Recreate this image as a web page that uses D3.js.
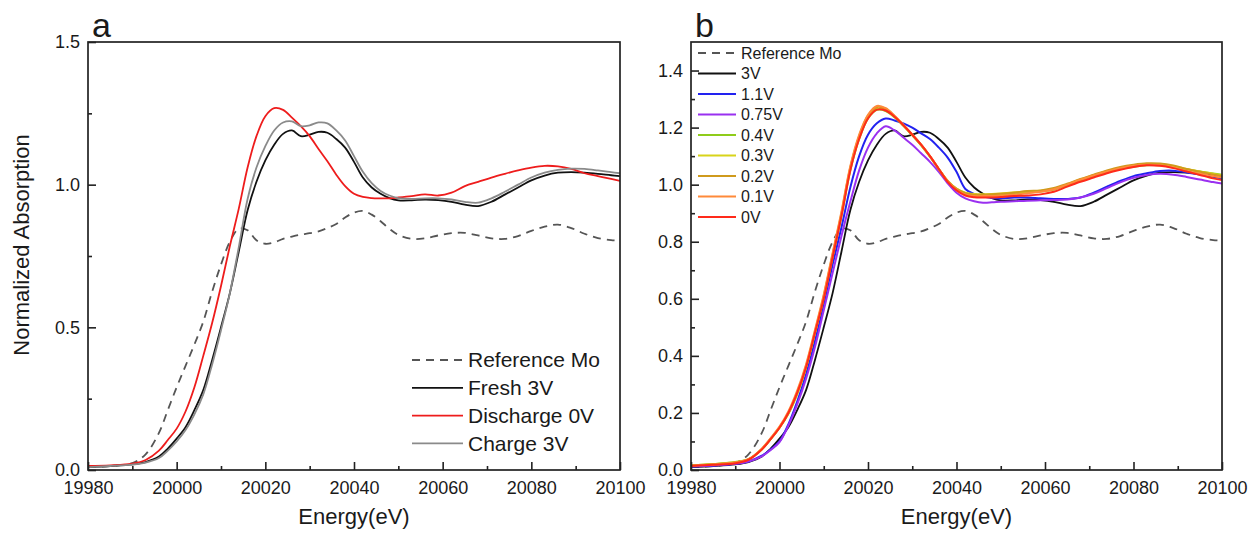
<!DOCTYPE html>
<html>
<head>
<meta charset="utf-8">
<script src="https://cdn.jsdelivr.net/npm/d3@7"></script>
<style>
    body { margin: 0; background: #fff; }
    svg text { font-family: "Liberation Sans", Arial, Helvetica, sans-serif; fill: #1a1a1a; }
</style>
</head>
<body>
<div id="chart"></div>
<script>
// energy grid (eV) shared by every curve
const energy = [19980, 19985, 19990, 19993, 19996, 19998,
    20000, 20002, 20004, 20006, 20008, 20010, 20012, 20014, 20016, 20018,
    20020, 20022, 20024, 20026, 20028, 20030, 20032, 20034, 20036, 20038,
    20040, 20042, 20044, 20046, 20048, 20050,
    20053, 20056, 20059, 20062, 20065, 20068, 20071, 20074, 20077, 20080,
    20083, 20086, 20089, 20092, 20095, 20098, 20100];

const refMo = [0.010, 0.014, 0.024, 0.055, 0.13, 0.21,
    0.29, 0.365, 0.44, 0.52, 0.625, 0.72, 0.80, 0.845, 0.84, 0.805,
    0.793, 0.798, 0.81, 0.818, 0.825, 0.83, 0.836, 0.848, 0.862, 0.885,
    0.902, 0.908, 0.895, 0.872, 0.845, 0.824,
    0.81, 0.812, 0.822, 0.83, 0.831, 0.822, 0.812, 0.81, 0.82, 0.838,
    0.853, 0.86, 0.848, 0.828, 0.813, 0.806, 0.804];

const fresh3V = [0.010, 0.014, 0.020, 0.028, 0.047, 0.075,
    0.11, 0.15, 0.21, 0.28, 0.385, 0.5, 0.62, 0.765, 0.91, 1.01,
    1.085, 1.14, 1.178, 1.19, 1.17, 1.175, 1.185, 1.182, 1.16, 1.13,
    1.08, 1.025, 0.99, 0.968, 0.953, 0.945,
    0.945, 0.948, 0.946, 0.94, 0.93, 0.925, 0.94, 0.965, 0.99, 1.015,
    1.032, 1.042, 1.044, 1.042, 1.038, 1.033, 1.03];

const discharge0V = [0.014, 0.016, 0.022, 0.035, 0.068, 0.105,
    0.145, 0.205, 0.29, 0.40, 0.515, 0.645, 0.785, 0.915, 1.06, 1.17,
    1.24, 1.268, 1.262, 1.235, 1.205, 1.17, 1.125, 1.082, 1.035, 0.995,
    0.968, 0.957, 0.953, 0.952, 0.952, 0.955,
    0.96, 0.966, 0.962, 0.972, 0.995, 1.01, 1.025, 1.038, 1.05, 1.06,
    1.066, 1.064, 1.055, 1.04, 1.03, 1.02, 1.013];

const charge3V = [0.010, 0.014, 0.019, 0.026, 0.042, 0.068,
    0.10, 0.14, 0.195, 0.265, 0.37, 0.49, 0.62, 0.78, 0.95, 1.06,
    1.135, 1.19, 1.218, 1.222, 1.205, 1.208, 1.218, 1.215, 1.19, 1.155,
    1.10, 1.045, 1.005, 0.978, 0.962, 0.953,
    0.95, 0.952, 0.952, 0.948, 0.94, 0.937, 0.952, 0.975, 1.0, 1.025,
    1.042, 1.052, 1.056, 1.055, 1.05, 1.044, 1.04];

// panel b, potential series
const b1_1V = [0.012, 0.016, 0.022, 0.03, 0.05, 0.072,
    0.10, 0.16, 0.24, 0.335, 0.45, 0.58, 0.72, 0.85, 0.99, 1.10,
    1.175, 1.215, 1.232, 1.225, 1.215, 1.2, 1.18, 1.16, 1.13, 1.095,
    1.045, 0.985, 0.968, 0.958, 0.953, 0.952,
    0.955, 0.955, 0.952, 0.95, 0.95, 0.955, 0.972, 0.993, 1.013, 1.03,
    1.04, 1.048, 1.049, 1.043, 1.036, 1.028, 1.022];

const b0_75V = [0.012, 0.016, 0.022, 0.03, 0.048, 0.07,
    0.098, 0.155, 0.23, 0.32, 0.43, 0.56, 0.69, 0.82, 0.94, 1.05,
    1.13, 1.18, 1.205, 1.19, 1.165, 1.14, 1.11, 1.08, 1.045, 1.005,
    0.972, 0.952, 0.942, 0.937, 0.938, 0.94,
    0.942, 0.944, 0.945, 0.946, 0.948, 0.955, 0.968, 0.988, 1.008, 1.024,
    1.034, 1.038, 1.035, 1.027, 1.018, 1.009, 1.004];

const b0_4V = [0.016, 0.021, 0.028, 0.038, 0.073, 0.108,
    0.148, 0.197, 0.266, 0.358, 0.478, 0.602, 0.745, 0.89, 1.05, 1.16,
    1.232, 1.262, 1.258, 1.236, 1.206, 1.173, 1.138, 1.098, 1.054, 1.013,
    0.985, 0.97, 0.965, 0.964, 0.965, 0.966,
    0.97, 0.973, 0.976, 0.983, 0.998, 1.015, 1.03, 1.044, 1.055, 1.063,
    1.068, 1.068, 1.063, 1.054, 1.046, 1.039, 1.035];

const b0_3V = [0.016, 0.02, 0.027, 0.037, 0.072, 0.108,
    0.148, 0.198, 0.268, 0.36, 0.48, 0.605, 0.75, 0.895, 1.055, 1.165,
    1.236, 1.266, 1.262, 1.238, 1.207, 1.174, 1.139, 1.099, 1.055, 1.014,
    0.986, 0.972, 0.967, 0.966, 0.967, 0.969,
    0.973, 0.976, 0.979, 0.986, 1.001, 1.018, 1.033, 1.047, 1.058, 1.066,
    1.071, 1.071, 1.065, 1.055, 1.046, 1.038, 1.033];

const b0_2V = [0.016, 0.02, 0.027, 0.038, 0.074, 0.11,
    0.15, 0.2, 0.272, 0.365, 0.485, 0.61, 0.755, 0.9, 1.06, 1.17,
    1.242, 1.272, 1.266, 1.24, 1.208, 1.175, 1.14, 1.1, 1.055, 1.013,
    0.985, 0.97, 0.965, 0.965, 0.966, 0.968,
    0.972, 0.978, 0.98, 0.988, 1.003, 1.02, 1.035, 1.05, 1.062, 1.07,
    1.075, 1.074, 1.067, 1.055, 1.045, 1.036, 1.03];

const b0_1V = [0.015, 0.019, 0.026, 0.038, 0.075, 0.112,
    0.152, 0.205, 0.278, 0.37, 0.49, 0.615, 0.76, 0.905, 1.065, 1.175,
    1.245, 1.276, 1.268, 1.242, 1.21, 1.176, 1.14, 1.1, 1.055, 1.012,
    0.982, 0.966, 0.96, 0.96, 0.96, 0.962,
    0.965, 0.97, 0.975, 0.984, 1.0, 1.017, 1.032, 1.046, 1.058, 1.066,
    1.07, 1.068, 1.06, 1.048, 1.038, 1.03, 1.025];

const b0V = [0.014, 0.018, 0.024, 0.036, 0.072, 0.108,
    0.148, 0.2, 0.27, 0.36, 0.48, 0.60, 0.745, 0.89, 1.05, 1.16,
    1.232, 1.263, 1.26, 1.238, 1.208, 1.175, 1.14, 1.1, 1.055, 1.01,
    0.98, 0.962, 0.956, 0.955, 0.955, 0.957,
    0.96, 0.962, 0.966, 0.975, 0.993, 1.01, 1.025, 1.04, 1.052, 1.062,
    1.068, 1.066, 1.058, 1.046, 1.034, 1.022, 1.016];

const xTicks = [19980, 20000, 20020, 20040, 20060, 20080, 20100];
const xMinorTicks = [19990, 20010, 20030, 20050, 20070, 20090];
const yTicksA = [0, 0.5, 1.0, 1.5];
const yMinorA = [0.25, 0.75, 1.25];
const yTicksB = [0, 0.2, 0.4, 0.6, 0.8, 1.0, 1.2, 1.4];
const yMinorB = [0.1, 0.3, 0.5, 0.7, 0.9, 1.1, 1.3];

const seriesA = [
    { name: "Reference Mo", values: refMo, color: "#555555", dash: "8,6", width: 1.8 },
    { name: "Fresh 3V", values: fresh3V, color: "#111111", width: 1.8 },
    { name: "Discharge 0V", values: discharge0V, color: "#ee1c1c", width: 1.8 },
    { name: "Charge 3V", values: charge3V, color: "#8a8a8a", width: 1.8 }
];

const seriesB = [
    { name: "Reference Mo", values: refMo, color: "#555555", dash: "8,6", width: 1.8 },
    { name: "3V", values: fresh3V, color: "#111111", width: 1.8 },
    { name: "1.1V", values: b1_1V, color: "#2222f0", width: 2 },
    { name: "0.75V", values: b0_75V, color: "#9a30f0", width: 2 },
    { name: "0.4V", values: b0_4V, color: "#8fcc1a", width: 2 },
    { name: "0.3V", values: b0_3V, color: "#d8d41a", width: 2 },
    { name: "0.2V", values: b0_2V, color: "#cf9a1c", width: 2 },
    { name: "0.1V", values: b0_1V, color: "#ff8a3a", width: 2 },
    { name: "0V", values: b0V, color: "#ff2a1a", width: 2 }
];

class XasPanel {
    constructor(svg, opts) {
        this.svg = svg;
        this.o = opts;
    }

    render() {
        const o = this.o;
        const x = d3.scaleLinear().domain([19980, 20100]).range([o.left, o.right]);
        const y = d3.scaleLinear().domain([0, 1.5]).range([o.bottom, o.top]);
        const g = this.svg.append("g").attr("class", "panel-" + o.letter);

        // curves, clipped to the frame
        const clipId = "clip-" + o.letter;
        this.svg.append("clipPath").attr("id", clipId)
            .append("rect")
            .attr("x", o.left).attr("y", o.top)
            .attr("width", o.right - o.left).attr("height", o.bottom - o.top);

        const line = d3.line()
            .x((d, i) => x(energy[i]))
            .y(d => y(d))
            .curve(d3.curveCatmullRom.alpha(0.5));

        g.append("g").attr("clip-path", `url(#${clipId})`)
            .selectAll("path")
            .data(o.series)
            .join("path")
            .attr("d", d => line(d.values))
            .attr("fill", "none")
            .attr("stroke", d => d.color)
            .attr("stroke-width", d => d.width)
            .attr("stroke-dasharray", d => d.dash || null)
            .attr("stroke-linejoin", "round");

        // axes with inward ticks
        const fmt = d3.format(".1f");
        const xAxis = g.append("g").attr("transform", `translate(0,${o.bottom})`)
            .call(d3.axisBottom(x).tickValues(xTicks).tickSize(-8).tickPadding(11).tickFormat(d3.format("d")));
        g.append("g").attr("transform", `translate(0,${o.bottom})`)
            .call(d3.axisBottom(x).tickValues(xMinorTicks).tickSize(-4).tickFormat(""));
        const yAxis = g.append("g").attr("transform", `translate(${o.left},0)`)
            .call(d3.axisLeft(y).tickValues(o.yTicks).tickSize(-8).tickPadding(8).tickFormat(fmt));
        g.append("g").attr("transform", `translate(${o.left},0)`)
            .call(d3.axisLeft(y).tickValues(o.yMinor).tickSize(-4).tickFormat(""));

        g.selectAll(".domain").remove();
        g.selectAll(".tick line").attr("stroke", "#222").attr("stroke-width", 1.6);
        [xAxis, yAxis].forEach(a => a.selectAll("text")
            .attr("font-size", 18).attr("font-family", null).attr("fill", "#1a1a1a"));

        // frame
        g.append("rect")
            .attr("x", o.left).attr("y", o.top)
            .attr("width", o.right - o.left).attr("height", o.bottom - o.top)
            .attr("fill", "none").attr("stroke", "#222").attr("stroke-width", 1.7);

        g.append("text")
            .attr("x", (o.left + o.right) / 2).attr("y", 524)
            .attr("text-anchor", "middle").attr("font-size", 22)
            .text("Energy(eV)");

        g.append("text")
            .attr("x", o.left + 4).attr("y", 37)
            .attr("font-size", 34)
            .text(o.letter);

        // legend
        const lg = o.legend;
        const items = g.append("g").selectAll("g")
            .data(o.series)
            .join("g")
            .attr("transform", (d, i) => `translate(0,${lg.y0 + i * lg.step})`);
        items.append("line")
            .attr("x1", lg.x1).attr("x2", lg.x2)
            .attr("stroke", d => d.color)
            .attr("stroke-width", d => d.width)
            .attr("stroke-dasharray", d => d.dash || null);
        items.append("text")
            .attr("x", lg.tx).attr("dy", "0.35em")
            .attr("font-size", lg.fontSize)
            .text(d => d.name);
    }
}

const svg = d3.select("#chart").append("svg")
    .attr("width", 1250).attr("height", 535);

svg.append("text")
    .attr("transform", "translate(29,245) rotate(-90)")
    .attr("text-anchor", "middle").attr("font-size", 22)
    .text("Normalized Absorption");

new XasPanel(svg, {
    letter: "a", left: 88, right: 620, top: 42, bottom: 470,
    series: seriesA, yTicks: yTicksA, yMinor: yMinorA,
    legend: { x1: 412, x2: 463, tx: 468, y0: 360, step: 27.8, fontSize: 21 }
}).render();

new XasPanel(svg, {
    letter: "b", left: 691, right: 1222, top: 42, bottom: 470,
    series: seriesB, yTicks: yTicksB, yMinor: yMinorB,
    legend: { x1: 698, x2: 736, tx: 741, y0: 53, step: 20.5, fontSize: 16 }
}).render();
</script>
</body>
</html>
